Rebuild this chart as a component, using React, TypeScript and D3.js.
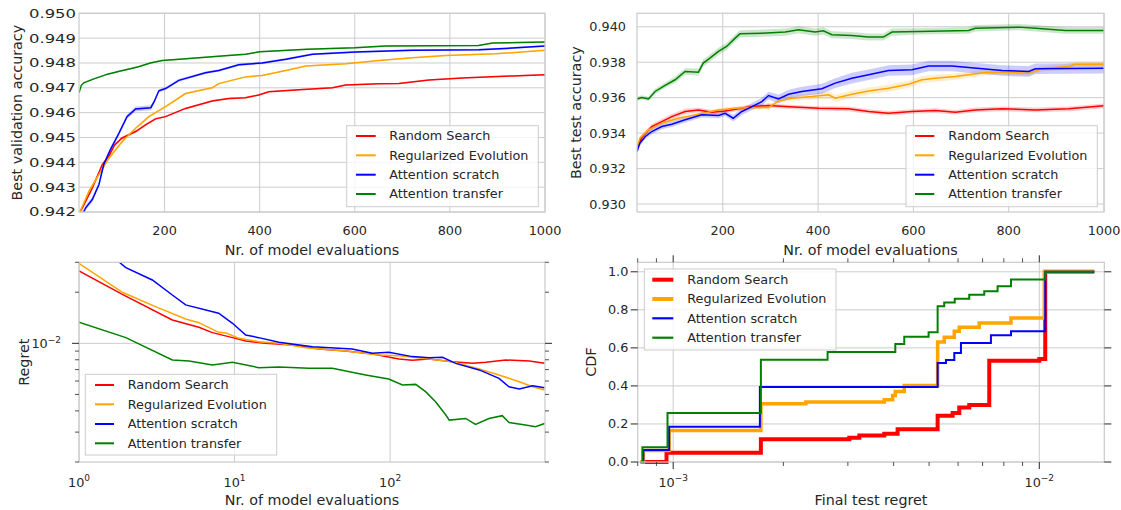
import React from 'react';
import * as d3 from 'd3';

const SERIES = ['Random Search', 'Regularized Evolution', 'Attention scratch', 'Attention transfer'];
const COLORS = ['#ff0000', '#ffa500', '#0000ff', '#008000'];

// Top-left: best validation accuracy [x, mean, halfwidth]
const VAL_RS = [[20,0.94195,0.00008],[27,0.94217,0.00008],[48,0.94297,0.00008],[69,0.94391,0.00007],[83,0.94425,0.00007],[95,0.9447,0.00006],[110,0.94497,0.00006],[125,0.94511,0.00005],[140,0.94525,0.00005],[160,0.94551,0.00005],[181,0.94575,0.00005],[202,0.94584,0.00004],[244,0.94617,0.00004],[300,0.94647,0.00004],[335,0.94657,0.00004],[370,0.9466,0.00004],[398,0.94671,0.00003],[419,0.94684,0.00003],[483,0.94692,0.00003],[553,0.947,0.00003],[581,0.94711,0.00003],[651,0.94716,0.00003],[693,0.94717,0.00003],[756,0.94731,0.00003],[826,0.9474,0.00003],[931,0.94748,0.00003],[1000,0.94753,0.00003]];
const VAL_RE = [[20,0.94195,0.00008],[23,0.94204,0.00008],[41,0.94284,0.00008],[62,0.94351,0.00007],[83,0.94417,0.00007],[111,0.94484,0.00006],[139,0.94537,0.00005],[167,0.94584,0.00005],[202,0.94624,0.00004],[244,0.94677,0.00004],[300,0.947,0.00004],[314,0.94717,0.00004],[370,0.94744,0.00003],[405,0.9475,0.00003],[455,0.9477,0.00003],[497,0.94788,0.00003],[581,0.94797,0.00003],[651,0.9481,0.00003],[721,0.94821,0.00003],[791,0.9483,0.00003],[896,0.94837,0.00003],[1000,0.94851,0.00003]];
const VAL_AS = [[26,0.94195,0.0001],[30,0.942,0.0001],[34,0.94217,0.0001],[48,0.9425,0.0001],[62,0.94311,0.0001],[72,0.94391,0.0001],[86,0.94451,0.0001],[104,0.94517,0.0001],[121,0.94584,0.0001],[139,0.94615,0.0001],[171,0.9462,0.0001],[178,0.94644,0.00008],[188,0.94688,0.00006],[202,0.94697,0.00006],[230,0.9473,0.00006],[286,0.94761,0.00005],[314,0.9477,0.00005],[356,0.94793,0.00005],[405,0.948,0.00005],[455,0.94815,0.00005],[511,0.94835,0.00004],[602,0.94844,0.00004],[721,0.94851,0.00004],[861,0.94853,0.00004],[931,0.9486,0.00004],[1000,0.94868,0.00004]];
const VAL_AT = [[20,0.9468,0.00003],[25,0.9471,0.00003],[30,0.9472,0.00003],[50,0.94735,0.00003],[80,0.94755,0.00003],[105,0.94767,0.00003],[130,0.94778,0.00003],[145,0.94785,0.00003],[170,0.948,0.00003],[195,0.9481,0.00003],[245,0.94817,0.00003],[320,0.94828,0.00003],[370,0.94835,0.00003],[400,0.94845,0.00003],[500,0.94855,0.00003],[600,0.94861,0.00003],[665,0.94868,0.00003],[860,0.9487,0.00003],[890,0.9488,0.00003],[1000,0.94884,0.00003]];

// Top-right: best test accuracy [x, mean, halfwidth]
const TEST_RS = [[20,0.93324,0.00015],[30,0.93375,0.00015],[51,0.93437,0.00015],[72,0.93465,0.00015],[93,0.93493,0.00015],[121,0.93522,0.00015],[149,0.93531,0.00012],[177,0.93518,0.00012],[205,0.93525,0.00012],[233,0.93537,0.00012],[261,0.9355,0.00012],[296,0.93556,0.00012],[331,0.9355,0.00012],[401,0.9354,0.00012],[464,0.93537,0.00013],[506,0.93522,0.00013],[548,0.93512,0.00013],[597,0.93522,0.00013],[646,0.93527,0.00013],[688,0.93518,0.00013],[730,0.93531,0.00013],[786,0.93537,0.00013],[856,0.93531,0.00013],[926,0.93537,0.00013],[1000,0.93554,0.00013]];
const TEST_RE = [[20,0.93314,0.00012],[26,0.93371,0.00012],[44,0.93418,0.00012],[72,0.93456,0.0001],[107,0.93484,0.0001],[142,0.93503,0.0001],[191,0.93531,0.0001],[226,0.9354,0.0001],[261,0.93544,0.0001],[296,0.93544,0.0001],[317,0.93582,0.00012],[345,0.93597,0.00015],[387,0.93606,0.00018],[422,0.93616,0.0002],[436,0.93597,0.0002],[471,0.93619,0.0002],[506,0.93638,0.0002],[548,0.93653,0.0002],[590,0.93676,0.0002],[618,0.93701,0.0002],[646,0.9371,0.0002],[688,0.93719,0.00018],[751,0.93742,0.00016],[786,0.93744,0.00015],[842,0.93738,0.00015],[870,0.93763,0.00015],[926,0.93776,0.00015],[940,0.93789,0.00015],[1000,0.93789,0.00015]];
const TEST_AS = [[20,0.93296,0.00015],[26,0.93343,0.00015],[37,0.9338,0.00015],[51,0.93409,0.00015],[72,0.93437,0.00015],[93,0.9345,0.00015],[121,0.93475,0.00015],[156,0.93503,0.00015],[191,0.93499,0.00015],[205,0.93512,0.00015],[222,0.93484,0.00018],[240,0.93522,0.0002],[254,0.9354,0.0002],[282,0.93578,0.00022],[296,0.93612,0.00022],[317,0.93593,0.00024],[338,0.93619,0.00025],[366,0.93635,0.00026],[408,0.9365,0.00028],[436,0.93682,0.00028],[471,0.9371,0.0003],[506,0.93729,0.0003],[548,0.93753,0.0003],[597,0.93757,0.0003],[632,0.93779,0.0003],[681,0.93779,0.0003],[716,0.9377,0.0003],[786,0.93753,0.0003],[842,0.93748,0.0003],[856,0.93763,0.0003],[1000,0.93766,0.0003]];
const TEST_AT = [[20,0.93593,0.00012],[30,0.93601,0.00012],[44,0.93593,0.00012],[58,0.93635,0.00015],[79,0.93669,0.00015],[100,0.93701,0.00018],[121,0.93748,0.00018],[149,0.93744,0.0002],[159,0.93795,0.0002],[173,0.93823,0.0002],[191,0.93861,0.0002],[208,0.93889,0.0002],[226,0.93936,0.0002],[236,0.9396,0.0002],[282,0.93964,0.0002],[331,0.9397,0.0002],[359,0.93983,0.0002],[394,0.9397,0.0002],[411,0.93977,0.0002],[429,0.93955,0.0002],[471,0.93951,0.0002],[506,0.93942,0.0002],[537,0.93942,0.0002],[555,0.9397,0.0002],[611,0.93974,0.00018],[716,0.93979,0.00018],[730,0.93992,0.00018],[821,0.93998,0.00018],[856,0.93992,0.00018],[919,0.93979,0.00018],[1000,0.93979,0.00018]];

// Bottom-left: regret [x, regret]
const REG_RS = [[1,0.02667],[1.9,0.01944],[3.98,0.01373],[5.9,0.01243],[7.2,0.01156],[9.7,0.0108],[11.8,0.01032],[15.8,0.01],[23.5,0.00978],[34.9,0.00926],[51.9,0.009],[77.2,0.00865],[114,0.00809],[139,0.00794],[178,0.00809],[251,0.0078],[339,0.00762],[413,0.00773],[553,0.00798],[786,0.00787],[984,0.00762]];
const REG_RE = [[1,0.0296],[1.9,0.01998],[3.1,0.01645],[4.85,0.01391],[5.9,0.01323],[7.9,0.01161],[8.8,0.01151],[10.7,0.0107],[14.3,0.01023],[19.3,0.01],[28.7,0.00943],[51.9,0.009],[85,0.00853],[114,0.00846],[178,0.00809],[251,0.0078],[374,0.00706],[501,0.00651],[676,0.00594],[825,0.00555],[984,0.00531]];
const REG_AS = [[1,0.06],[1.8,0.0302],[2.0,0.02791],[2.96,0.0236],[3.98,0.01926],[4.85,0.01684],[7.9,0.01503],[9.7,0.01312],[11.8,0.01119],[14.3,0.0108],[19.3,0.01014],[31.7,0.00956],[57,0.00926],[77,0.00873],[98,0.00885],[139,0.00835],[178,0.00823],[217,0.00827],[264,0.00762],[374,0.00697],[501,0.00622],[581,0.00555],[676,0.00538],[825,0.00563],[984,0.00548]];
const REG_AT = [[1,0.0133],[2,0.0108],[3.98,0.00798],[5.1,0.00787],[7.2,0.00745],[9.7,0.00773],[14.3,0.00719],[19.3,0.00725],[30.1,0.00712],[42.5,0.00712],[69.6,0.00651],[98,0.00616],[120,0.00568],[146,0.00573],[169,0.00519],[196,0.00453],[228,0.00378],[240,0.00353],[306,0.00361],[354,0.00333],[432,0.00361],[526,0.00375],[581,0.00342],[741,0.0033],[861,0.00323],[984,0.00337]];

// Bottom-right: CDF of final test regret [x, cdf after x]
const CDF_RS = [[0.000815,0],[0.000959,0.049],[0.001736,0.12],[0.003027,0.128],[0.003224,0.139],[0.003772,0.148],[0.004102,0.172],[0.005276,0.243],[0.005798,0.257],[0.006045,0.286],[0.006437,0.3],[0.0073,0.533],[0.01,0.541],[0.01038,1.0],[0.01413,1.0]];
const CDF_RE = [[0.000815,0],[0.000829,0.06],[0.000975,0.165],[0.001736,0.306],[0.002304,0.315],[0.003772,0.327],[0.003975,0.35],[0.004043,0.371],[0.004277,0.402],[0.005276,0.631],[0.005499,0.656],[0.005859,0.687],[0.006045,0.708],[0.006855,0.731],[0.008368,0.757],[0.01032,1.0],[0.01413,1.0]];
const CDF_AS = [[0.000815,0],[0.000829,0.063],[0.000975,0.186],[0.001725,0.394],[0.005276,0.52],[0.005559,0.536],[0.005859,0.573],[0.006109,0.626],[0.007377,0.666],[0.008368,0.687],[0.01038,1.0],[0.01413,1.0]];
const CDF_AT = [[0.000815,0],[0.000824,0.077],[0.000965,0.257],[0.001736,0.538],[0.002641,0.578],[0.004043,0.62],[0.004277,0.659],[0.004985,0.682],[0.005276,0.819],[0.005499,0.838],[0.005876,0.858],[0.006437,0.88],[0.007074,0.898],[0.007692,0.924],[0.008368,0.96],[0.01038,1.0],[0.01413,1.0]];

const VAL_Y_TICKS = [0.942, 0.943, 0.944, 0.945, 0.946, 0.947, 0.948, 0.949, 0.95];
const TEST_Y_TICKS = [0.93, 0.932, 0.934, 0.936, 0.938, 0.94];
const EVAL_X_TICKS = [200, 400, 600, 800, 1000];
const REG_X_TICKS = [[1, '0'], [10, '1'], [100, '2']];
const REG_Y_MAJOR = [[0.01, '−2']];
const REG_Y_MINOR = [0.002, 0.003, 0.004, 0.005, 0.006, 0.007, 0.008, 0.009, 0.02, 0.03];
const CDF_X_MAJOR = [[0.001, '−3'], [0.01, '−2']];
const CDF_X_MINOR = [0.0008, 0.0009, 0.002, 0.003, 0.004, 0.005, 0.006, 0.007, 0.008, 0.009];
const CDF_Y_TICKS = [0, 0.2, 0.4, 0.6, 0.8, 1.0];

const FONT = 'DejaVu Sans';
const TXT = '#262626';
const GRID = '#cccccc';
const TICK_FS = 12.8;
const LAB_FS = 14.3;

function Legend({ x0, y0, x1, y1, hx0, hx1, tx, rows, widths }: any) {
  return (
    <g>
      <rect x={x0} y={y0} width={x1 - x0} height={y1 - y0} fill="#ffffff" fillOpacity={0.8} stroke={GRID} strokeWidth={1} />
      {SERIES.map((s, i) => (
        <g key={s}>
          <line x1={hx0} x2={hx1} y1={rows[i]} y2={rows[i]} stroke={COLORS[i]} strokeWidth={widths[i]} />
          <text x={tx} y={rows[i]} dy="0.35em" fontSize={TICK_FS} fill={TXT} fontFamily={FONT}>{s}</text>
        </g>
      ))}
    </g>
  );
}

function Pow({ x, y, exp, anchor = 'middle', dy = 0 }: any) {
  return (
    <text x={x} y={y} dy={dy} textAnchor={anchor} fontSize={TICK_FS} fill={TXT} fontFamily={FONT}>
      10<tspan fontSize={9} dy={-5.5}>{exp}</tspan>
    </text>
  );
}

function AccPanel({ id, data, x0, x1, y0, y1, yDomain, yTicks, yLabel, yLabelX, tickLabelProps, legend }: any) {
  const x = d3.scaleLinear().domain([20, 1000]).range([x0, x1]);
  const y = d3.scaleLinear().domain(yDomain).range([y1, y0]);
  const line = d3.line<any>().x((d) => x(d[0])).y((d) => y(d[1]));
  const area = d3.area<any>().x((d) => x(d[0])).y0((d) => y(d[1] - d[2])).y1((d) => y(d[1] + d[2]));
  return (
    <g>
      <defs>
        <clipPath id={id}><rect x={x0} y={y0} width={x1 - x0} height={y1 - y0} /></clipPath>
      </defs>
      {yTicks.map((t: number) => (
        <line key={'gy' + t} x1={x0} x2={x1} y1={y(t)} y2={y(t)} stroke={GRID} strokeWidth={1} />
      ))}
      {EVAL_X_TICKS.map((t) => (
        <line key={'gx' + t} x1={x(t)} x2={x(t)} y1={y0} y2={y1} stroke={GRID} strokeWidth={1} />
      ))}
      <g clipPath={`url(#${id})`}>
        {data.map((d: any, i: number) => (
          <path key={'a' + i} d={area(d) || ''} fill={COLORS[i]} fillOpacity={0.2} stroke="none" />
        ))}
        {data.map((d: any, i: number) => (
          <path key={'l' + i} d={line(d) || ''} fill="none" stroke={COLORS[i]} strokeWidth={1.5} />
        ))}
      </g>
      <rect x={x0} y={y0} width={x1 - x0} height={y1 - y0} fill="none" stroke={GRID} strokeWidth={1.25} />
      {yTicks.map((t: number) => (
        <text key={'ty' + t} y={y(t)} dy="0.35em" fontSize={TICK_FS} fill={TXT} fontFamily={FONT} {...tickLabelProps}>
          {d3.format('.3f')(t)}
        </text>
      ))}
      {EVAL_X_TICKS.map((t) => (
        <text key={'tx' + t} x={x(t)} y={235} textAnchor="middle" fontSize={TICK_FS} fill={TXT} fontFamily={FONT}>{t}</text>
      ))}
      <text x={(x0 + x1) / 2} y={255} textAnchor="middle" fontSize={LAB_FS} fill={TXT} fontFamily={FONT}>Nr. of model evaluations</text>
      <text transform={`translate(${yLabelX},${(y0 + y1) / 2}) rotate(-90)`} textAnchor="middle" fontSize={LAB_FS} fill={TXT} fontFamily={FONT}>{yLabel}</text>
      <Legend {...legend} widths={[2, 2, 2, 2]} />
    </g>
  );
}

function RegretPanel() {
  const x0 = 79, x1 = 545, y0 = 262.3, y1 = 462;
  const x = d3.scaleLog().domain([1, 990]).range([x0, x1]);
  const y = d3.scaleLog().domain([0.002, 0.03]).range([y1, y0]);
  const line = d3.line<any>().x((d) => x(d[0])).y((d) => y(d[1]));
  const data = [REG_RS, REG_RE, REG_AS, REG_AT];
  return (
    <g>
      <defs>
        <clipPath id="clipBL"><rect x={x0} y={y0} width={x1 - x0} height={y1 - y0} /></clipPath>
      </defs>
      {REG_X_TICKS.map((t: any) => (
        <line key={'gx' + t[0]} x1={x(t[0])} x2={x(t[0])} y1={y0} y2={y1} stroke={GRID} strokeWidth={1} />
      ))}
      {REG_Y_MAJOR.map((t: any) => (
        <line key={'gy' + t[0]} x1={x0} x2={x1} y1={y(t[0])} y2={y(t[0])} stroke={GRID} strokeWidth={1} />
      ))}
      <g clipPath="url(#clipBL)">
        {data.map((d, i) => (
          <path key={i} d={line(d as any) || ''} fill="none" stroke={COLORS[i]} strokeWidth={1.5} />
        ))}
      </g>
      <rect x={x0} y={y0} width={x1 - x0} height={y1 - y0} fill="none" stroke={GRID} strokeWidth={1.25} />
      {REG_Y_MINOR.map((t) => (
        <g key={'my' + t}>
          <line x1={x0 - 4} x2={x0} y1={y(t)} y2={y(t)} stroke={TXT} strokeWidth={0.8} />
          <line x1={x1} x2={x1 + 4} y1={y(t)} y2={y(t)} stroke={TXT} strokeWidth={0.8} />
        </g>
      ))}
      {REG_Y_MAJOR.map((t: any) => (
        <g key={'My' + t[0]}>
          <line x1={x0 - 7} x2={x0} y1={y(t[0])} y2={y(t[0])} stroke={TXT} strokeWidth={1} />
          <line x1={x1} x2={x1 + 7} y1={y(t[0])} y2={y(t[0])} stroke={TXT} strokeWidth={1} />
          <Pow x={61} y={y(t[0])} dy={5} exp={t[1]} anchor="end" />
        </g>
      ))}
      {REG_X_TICKS.map((t: any) => (
        <Pow key={'tx' + t[0]} x={x(t[0])} y={486.5} exp={t[1]} />
      ))}
      <text x={(x0 + x1) / 2} y={505} textAnchor="middle" fontSize={LAB_FS} fill={TXT} fontFamily={FONT}>Nr. of model evaluations</text>
      <text transform={`translate(29,${(y0 + y1) / 2}) rotate(-90)`} textAnchor="middle" fontSize={LAB_FS} fill={TXT} fontFamily={FONT}>Regret</text>
      <Legend x0={85.3} y0={374.3} x1={276.7} y1={455} hx0={95} hx1={114} tx={127.7} rows={[385, 404.3, 424, 443.3]} widths={[2, 2, 2, 2]} />
    </g>
  );
}

function CdfPanel() {
  const x0 = 637.7, x1 = 1104.3, y0 = 262.3, y1 = 462;
  const x = d3.scaleLog().domain([0.0008, 0.01505]).range([x0, x1]);
  const y = d3.scaleLinear().domain([0, 1.05]).range([y1, y0]);
  const line = d3.line<any>().x((d) => x(d[0])).y((d) => y(d[1])).curve(d3.curveStepAfter);
  const data = [CDF_RS, CDF_RE, CDF_AS, CDF_AT];
  const widths = [4, 3.5, 2, 2];
  return (
    <g>
      <defs>
        <clipPath id="clipBR"><rect x={x0} y={y0 - 3} width={x1 - x0} height={y1 - y0 + 6} /></clipPath>
      </defs>
      {CDF_Y_TICKS.map((t) => (
        <line key={'gy' + t} x1={x0} x2={x1} y1={y(t)} y2={y(t)} stroke={GRID} strokeWidth={1} />
      ))}
      {CDF_X_MAJOR.map((t: any) => (
        <line key={'gx' + t[0]} x1={x(t[0])} x2={x(t[0])} y1={y0} y2={y1} stroke={GRID} strokeWidth={1} />
      ))}
      <g clipPath="url(#clipBR)">
        {data.map((d, i) => (
          <path key={i} d={line(d as any) || ''} fill="none" stroke={COLORS[i]} strokeWidth={widths[i]} />
        ))}
      </g>
      <rect x={x0} y={y0} width={x1 - x0} height={y1 - y0} fill="none" stroke={GRID} strokeWidth={1.25} />
      {CDF_X_MINOR.map((t) => (
        <g key={'mx' + t}>
          <line x1={x(t)} x2={x(t)} y1={y1} y2={y1 + 4} stroke={TXT} strokeWidth={0.8} />
          <line x1={x(t)} x2={x(t)} y1={y0 - 4} y2={y0} stroke={TXT} strokeWidth={0.8} />
        </g>
      ))}
      {CDF_X_MAJOR.map((t: any) => (
        <g key={'Mx' + t[0]}>
          <line x1={x(t[0])} x2={x(t[0])} y1={y1} y2={y1 + 7} stroke={TXT} strokeWidth={1} />
          <line x1={x(t[0])} x2={x(t[0])} y1={y0 - 7} y2={y0} stroke={TXT} strokeWidth={1} />
          <Pow x={x(t[0])} y={486.5} exp={t[1]} />
        </g>
      ))}
      {CDF_Y_TICKS.map((t) => (
        <g key={'ty' + t}>
          <line x1={x0 - 7} x2={x0} y1={y(t)} y2={y(t)} stroke={TXT} strokeWidth={1} />
          <line x1={x1} x2={x1 + 7} y1={y(t)} y2={y(t)} stroke={TXT} strokeWidth={1} />
          <text x={628.3} y={y(t)} dy="0.35em" textAnchor="end" fontSize={TICK_FS} fill={TXT} fontFamily={FONT}>{d3.format('.1f')(t)}</text>
        </g>
      ))}
      <text x={(x0 + x1) / 2} y={505} textAnchor="middle" fontSize={LAB_FS} fill={TXT} fontFamily={FONT}>Final test regret</text>
      <text transform={`translate(596,${(y0 + y1) / 2}) rotate(-90)`} textAnchor="middle" fontSize={LAB_FS} fill={TXT} fontFamily={FONT}>CDF</text>
      <Legend x0={644.3} y0={269} x1={836} y1={350} hx0={652.3} hx1={673.3} tx={687.3} rows={[279.7, 299, 318.3, 337.7]} widths={[4, 4, 2.2, 2.2]} />
    </g>
  );
}

export default function App() {
  return (
    <svg width={1121} height={510} style={{ position: 'absolute', left: 0, top: 0, background: '#ffffff' }}>
      <rect x={0} y={0} width={1121} height={510} fill="#ffffff" />
      <AccPanel
        id="clipTL"
        data={[VAL_RS, VAL_RE, VAL_AS, VAL_AT]}
        x0={79} x1={545} y0={13.3} y1={212}
        yDomain={[0.942, 0.95]}
        yTicks={VAL_Y_TICKS}
        yLabel="Best validation accuracy"
        yLabelX={21.7}
        tickLabelProps={{ x: 29, textAnchor: 'start', textLength: 47, lengthAdjust: 'spacingAndGlyphs' }}
        legend={{ x0: 346.7, y0: 125.7, x1: 538.3, y1: 206.7, hx0: 356, hx1: 375.7, tx: 389.3, rows: [136, 155.3, 174.7, 194] }}
      />
      <AccPanel
        id="clipTR"
        data={[TEST_RS, TEST_RE, TEST_AS, TEST_AT]}
        x0={637} x1={1104} y0={13.3} y1={212}
        yDomain={[0.92955, 0.94076]}
        yTicks={TEST_Y_TICKS}
        yLabel="Best test accuracy"
        yLabelX={581}
        tickLabelProps={{ x: 626, textAnchor: 'end' }}
        legend={{ x0: 906, y0: 125.7, x1: 1097.3, y1: 206.7, hx0: 915, hx1: 934.3, tx: 948.3, rows: [136, 155.3, 174.7, 194] }}
      />
      <RegretPanel />
      <CdfPanel />
    </svg>
  );
}
